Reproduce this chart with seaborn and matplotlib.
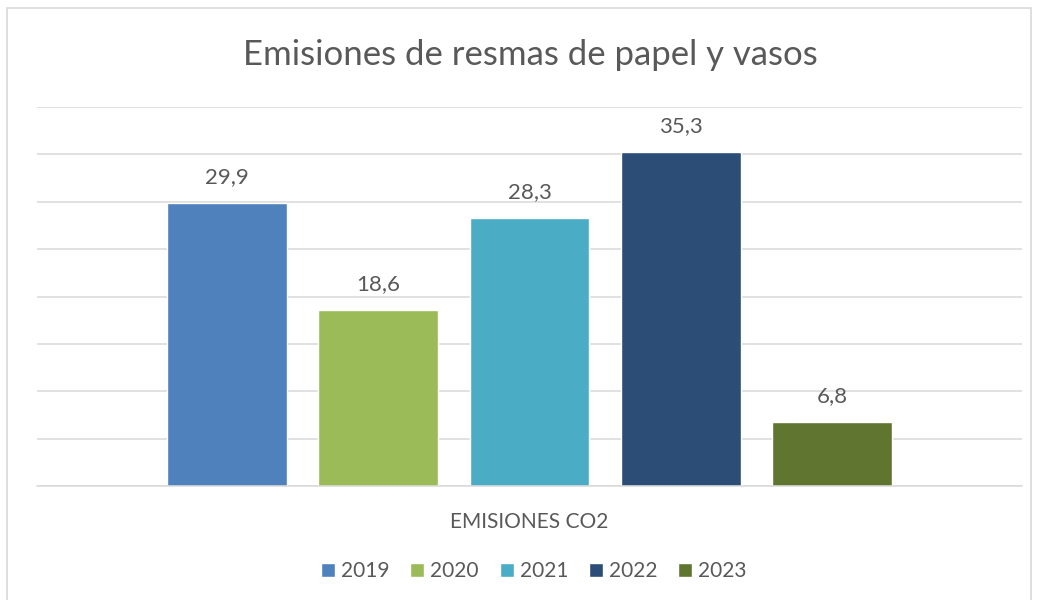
import matplotlib
matplotlib.use("Agg")
import matplotlib.pyplot as plt
import pandas as pd
import seaborn as sns
from matplotlib.patches import Rectangle

# data
years = ["2019", "2020", "2021", "2022", "2023"]
emisiones = [29.9, 18.6, 28.3, 35.3, 6.8]
categoria = "EMISIONES CO2"
colores = ["#4F81BD", "#9BBB59", "#4BACC6", "#2C4D75", "#5F7530"]

df = pd.DataFrame({"cat": [categoria] * len(years), "year": years, "val": emisiones})

sns.set_theme(style="white")
plt.rcParams["font.family"] = ["Lato", "DejaVu Sans"]
txt = "#595959"

fig = plt.figure(figsize=(10.38, 6), dpi=100)
ax = fig.add_axes([37 / 1038, 1 - 486 / 600, (1022 - 37) / 1038, (486 - 107) / 600])

sns.barplot(data=df, x="cat", y="val", hue="year", palette=colores,
            width=0.769, gap=0.208, ax=ax, legend=True, saturation=1)

for c in ax.containers:
    ax.bar_label(c, labels=[f"{v:.1f}".replace(".", ",") for v in c.datavalues],
                 padding=11, fontsize=16, color=txt)

ax.set_ylim(0, 40)
ax.set_xlim(-0.5, 0.5)
ax.set_yticks(range(0, 45, 5))
ax.yaxis.grid(True, color="#D9D9D9", linewidth=1.1)
ax.set_axisbelow(True)
ax.set_yticklabels([])
ax.tick_params(left=False, bottom=False)
for s in ["left", "right", "top"]:
    ax.spines[s].set_visible(False)
ax.spines["bottom"].set_color("#D9D9D9")
ax.spines["bottom"].set_linewidth(1.1)
ax.set_xticks([0])
ax.set_xticklabels([categoria], fontsize=15, color=txt)
ax.tick_params(axis="x", pad=13)
ax.set_xlabel("")
ax.set_ylabel("")

ax.legend(loc="center", bbox_to_anchor=(534 / 1038, (600 - 571) / 600), bbox_transform=fig.transFigure,
          ncol=5, frameon=False, fontsize=15, labelcolor=txt, handlelength=0.67,
          handleheight=0.67, handletextpad=0.29, columnspacing=1.0)

fig.text(530 / 1038, 1 - 55 / 600, "Emisiones de resmas de papel y vasos", ha="center", va="center",
         fontsize=25, color=txt)

fig.patches.append(Rectangle((7 / 1038, -0.1), (1031 - 7) / 1038, 1.1 - 8 / 600,
                             transform=fig.transFigure, fill=False, edgecolor="#D9D9D9",
                             linewidth=1.2))

fig.savefig("out.png", dpi=100)
